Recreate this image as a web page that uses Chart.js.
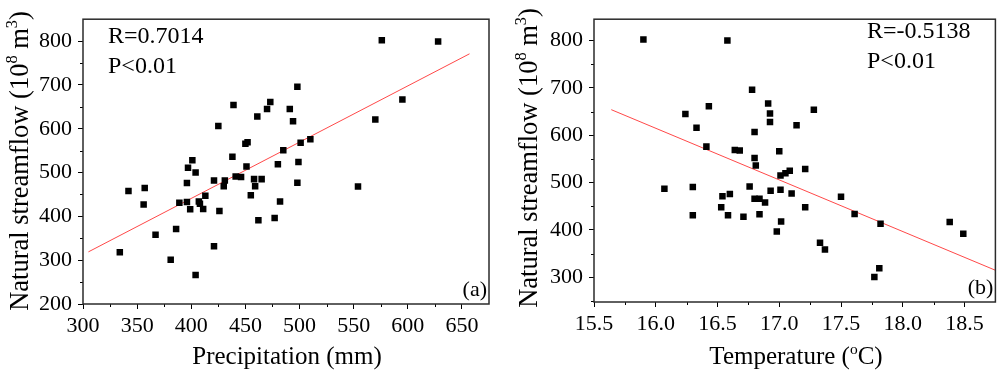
<!DOCTYPE html>
<html>
<head>
<meta charset="utf-8">
<title>Natural streamflow scatter</title>
<script src="https://cdn.jsdelivr.net/npm/chart.js@4.4.0/dist/chart.umd.min.js"></script>
<style>
  html, body { margin: 0; padding: 0; background: #fff; }
  #wrap { position: relative; width: 1000px; height: 371px; }
  .panel { position: absolute; top: 0; width: 500px; height: 371px; }
</style>
</head>
<body>
<div id="wrap">
  <div class="panel" style="left:0"><canvas id="chartA" width="500" height="371"></canvas></div>
  <div class="panel" style="left:500px"><canvas id="chartB" width="500" height="371"></canvas></div>
</div>
<script>
// (a) precipitation vs natural streamflow
const precip = [439, 473, 470, 461, 425, 450, 452, 438, 480, 451, 401, 397, 404, 396, 421, 431, 430, 441, 446, 458,
                465, 459, 455, 342, 357, 413, 356, 389, 396, 407, 408, 399, 411, 426, 462, 477, 482, 367, 386, 334,
                381, 421, 404, 576, 628, 498, 491, 494, 595, 570, 510, 501, 485, 499, 498, 554];
const flowA  = [654, 661, 645, 628, 606, 566, 569, 536, 519, 514, 528, 511, 500, 476, 482, 482, 469, 491, 490, 485,
                485, 469, 448, 458, 465, 447, 427, 431, 433, 434, 429, 416, 417, 412, 391, 396, 434, 358, 371, 318,
                301, 332, 266, 802, 799, 696, 645, 617, 667, 621, 576, 568, 551, 524, 477, 468];
const fitAx = [305, 657];
const fitAy = [319, 771];

// (b) temperature vs natural streamflow
const temp  = [15.90, 16.58, 16.78, 16.91, 16.925, 16.925, 17.14, 16.43, 16.24, 16.33, 16.41, 16.64, 16.68, 16.80,
               16.80, 16.81, 17.00, 17.01, 17.05, 17.085, 16.07, 16.30, 16.76, 16.93, 17.01, 17.10, 16.54, 16.60,
               16.80, 16.84, 16.885, 16.53, 16.585, 16.71, 16.84, 16.30, 17.015, 16.98, 17.28, 17.21, 17.50, 17.21,
               17.61, 17.82, 17.33, 17.37, 17.77, 17.81, 18.38, 18.49];
const flowB = [802, 800, 696, 667, 646, 628, 621, 661, 645, 616, 576, 569, 568, 607,
               552, 536, 566, 515, 520, 525, 487, 491, 492, 483, 485, 477, 471, 476,
               466, 466, 458, 448, 431, 428, 433, 431, 418, 397, 654, 529, 470, 448,
               434, 413, 373, 359, 301, 319, 417, 392];
const fitBx = [15.64, 18.75];
const fitBy = [654, 315];

// ticks
const xTicksA = [300, 350, 400, 450, 500, 550, 600, 650];
const xMinorA = [325, 375, 425, 475, 525, 575, 625];
const yTicksA = [200, 300, 400, 500, 600, 700, 800];
const yMinorA = [250, 350, 450, 550, 650, 750];
const xTicksB = [15.5, 16.0, 16.5, 17.0, 17.5, 18.0, 18.5];
const xMinorB = [15.75, 16.25, 16.75, 17.25, 17.75, 18.25];
const yTicksB = [300, 400, 500, 600, 700, 800];
const yMinorB = [250, 350, 450, 550, 650, 750];

const SERIF = '"Liberation Serif", "Times New Roman", serif';

// draw a run of text pieces, some of them raised as superscripts
function drawPieces(ctx, pieces, size) {
    let total = 0;
    pieces.forEach(p => {
        ctx.font = (p.sup ? size * 0.62 : size) + 'px ' + SERIF;
        p.w = ctx.measureText(p.t).width;
        total += p.w;
    });
    let x = -total / 2;
    pieces.forEach(p => {
        ctx.font = (p.sup ? size * 0.62 : size) + 'px ' + SERIF;
        ctx.fillText(p.t, x, p.sup ? -size * 0.42 : 0);
        x += p.w;
    });
}

function makePanel(id, cfg) {
    const ctx = document.getElementById(id).getContext('2d');

    const decor = {
        id: 'decor',
        afterDraw(chart) {
            const c = chart.ctx;
            const a = chart.chartArea;
            const xs = chart.scales.x, ys = chart.scales.y;
            c.save();
            // minor ticks
            c.strokeStyle = '#000';
            c.lineWidth = 1;
            c.beginPath();
            cfg.xMinor.forEach(v => {
                const px = Math.round(xs.getPixelForValue(v)) + 0.5;
                c.moveTo(px, a.bottom);
                c.lineTo(px, a.bottom + 3);
            });
            cfg.yMinor.forEach(v => {
                const py = Math.round(ys.getPixelForValue(v)) + 0.5;
                c.moveTo(a.left, py);
                c.lineTo(a.left - 3, py);
            });
            c.stroke();
            // frame
            c.strokeStyle = '#2b2b2b';
            c.lineWidth = 1.5;
            c.strokeRect(a.left, a.top, a.right - a.left, a.bottom - a.top);
            // stats text
            c.fillStyle = '#000';
            c.textAlign = 'left';
            c.textBaseline = 'alphabetic';
            c.font = '24px ' + SERIF;
            c.fillText(cfg.rText, cfg.statX, cfg.statY);
            c.fillText('P<0.01', cfg.statX, cfg.statY + 30);
            // panel label
            c.font = '22px ' + SERIF;
            c.textAlign = 'right';
            c.fillText(cfg.panel, a.right - 2, a.bottom - 8);
            // axis titles
            c.textAlign = 'left';
            c.save();
            c.translate(cfg.xTitleX, 364);
            drawPieces(c, cfg.xTitle, 25);
            c.restore();
            c.save();
            c.translate(cfg.yTitleX, cfg.yTitleY);
            c.rotate(-Math.PI / 2);
            drawPieces(c, [
                { t: 'Natural streamflow (10' },
                { t: '8', sup: true },
                { t: ' m' },
                { t: '3', sup: true },
                { t: ')' }
            ], 26.5);
            c.restore();
            c.restore();
        }
    };

    const tickFont = { family: SERIF, size: 22 };

    return new Chart(ctx, {
        type: 'scatter',
        data: {
            datasets: [{
                label: 'points',
                data: cfg.xs.map((x, i) => ({ x: x, y: cfg.ys[i] })),
                pointStyle: 'rect',
                pointRadius: 4.6,
                pointHoverRadius: 4.6,
                pointBackgroundColor: '#000',
                pointBorderWidth: 0,
                showLine: false,
                order: 1
            }, {
                label: 'fit',
                data: cfg.fitX.map((x, i) => ({ x: x, y: cfg.fitY[i] })),
                showLine: true,
                borderColor: 'rgba(255, 40, 40, 0.85)',
                borderWidth: 1,
                pointRadius: 0,
                fill: false,
                order: 2
            }]
        },
        options: {
            responsive: false,
            animation: false,
            events: [],
            layout: { padding: { top: 3, right: cfg.padRight, left: 0, bottom: 0 } },
            plugins: { legend: { display: false }, tooltip: { enabled: false } },
            scales: {
                x: {
                    type: 'linear',
                    min: cfg.xMin,
                    max: cfg.xMax,
                    afterBuildTicks: s => { s.ticks = cfg.xTicks.map(v => ({ value: v })); },
                    afterFit: s => { s.height = cfg.xAxisH; },
                    grid: { drawOnChartArea: false, drawTicks: true, tickLength: 5, tickColor: '#000', tickWidth: 1 },
                    border: { display: false },
                    ticks: {
                        font: tickFont, color: '#000', padding: 4, maxRotation: 0, autoSkip: false,
                        callback: v => v.toFixed(cfg.xDec)
                    }
                },
                y: {
                    type: 'linear',
                    min: cfg.yMin,
                    max: cfg.yMax,
                    afterBuildTicks: s => { s.ticks = cfg.yTicks.map(v => ({ value: v })); },
                    afterFit: s => { s.width = cfg.yAxisW; },
                    grid: { drawOnChartArea: false, drawTicks: true, tickLength: 5, tickColor: '#000', tickWidth: 1 },
                    border: { display: false },
                    ticks: {
                        font: tickFont, color: '#000', padding: 6, autoSkip: false,
                        callback: v => String(v)
                    }
                }
            }
        },
        plugins: [decor]
    });
}

document.addEventListener('DOMContentLoaded', () => {
    makePanel('chartA', {
        xs: precip, ys: flowA, fitX: fitAx, fitY: fitAy,
        xMin: 300, xMax: 675, yMin: 200, yMax: 850,
        xTicks: xTicksA, xMinor: xMinorA, yTicks: yTicksA, yMinor: yMinorA, xDec: 0,
        yAxisW: 83, xAxisH: 67, padRight: 11,
        rText: 'R=0.7014', statX: 108, statY: 43, panel: '(a)',
        xTitle: [{ t: 'Precipitation (mm)' }], xTitleX: 287,
        yTitleX: 28, yTitleY: 161
    });
    makePanel('chartB', {
        xs: temp, ys: flowB, fitX: fitBx, fitY: fitBy,
        xMin: 15.5, xMax: 18.75, yMin: 248, yMax: 845,
        xTicks: xTicksB, xMinor: xMinorB, yTicks: yTicksB, yMinor: yMinorB, xDec: 1,
        yAxisW: 94, xAxisH: 69, padRight: 1,
        rText: 'R=-0.5138', statX: 367, statY: 38, panel: '(b)',
        xTitle: [{ t: 'Temperature (' }, { t: 'o', sup: true }, { t: 'C)' }], xTitleX: 296,
        yTitleX: 37, yTitleY: 158
    });
});
</script>
</body>
</html>
